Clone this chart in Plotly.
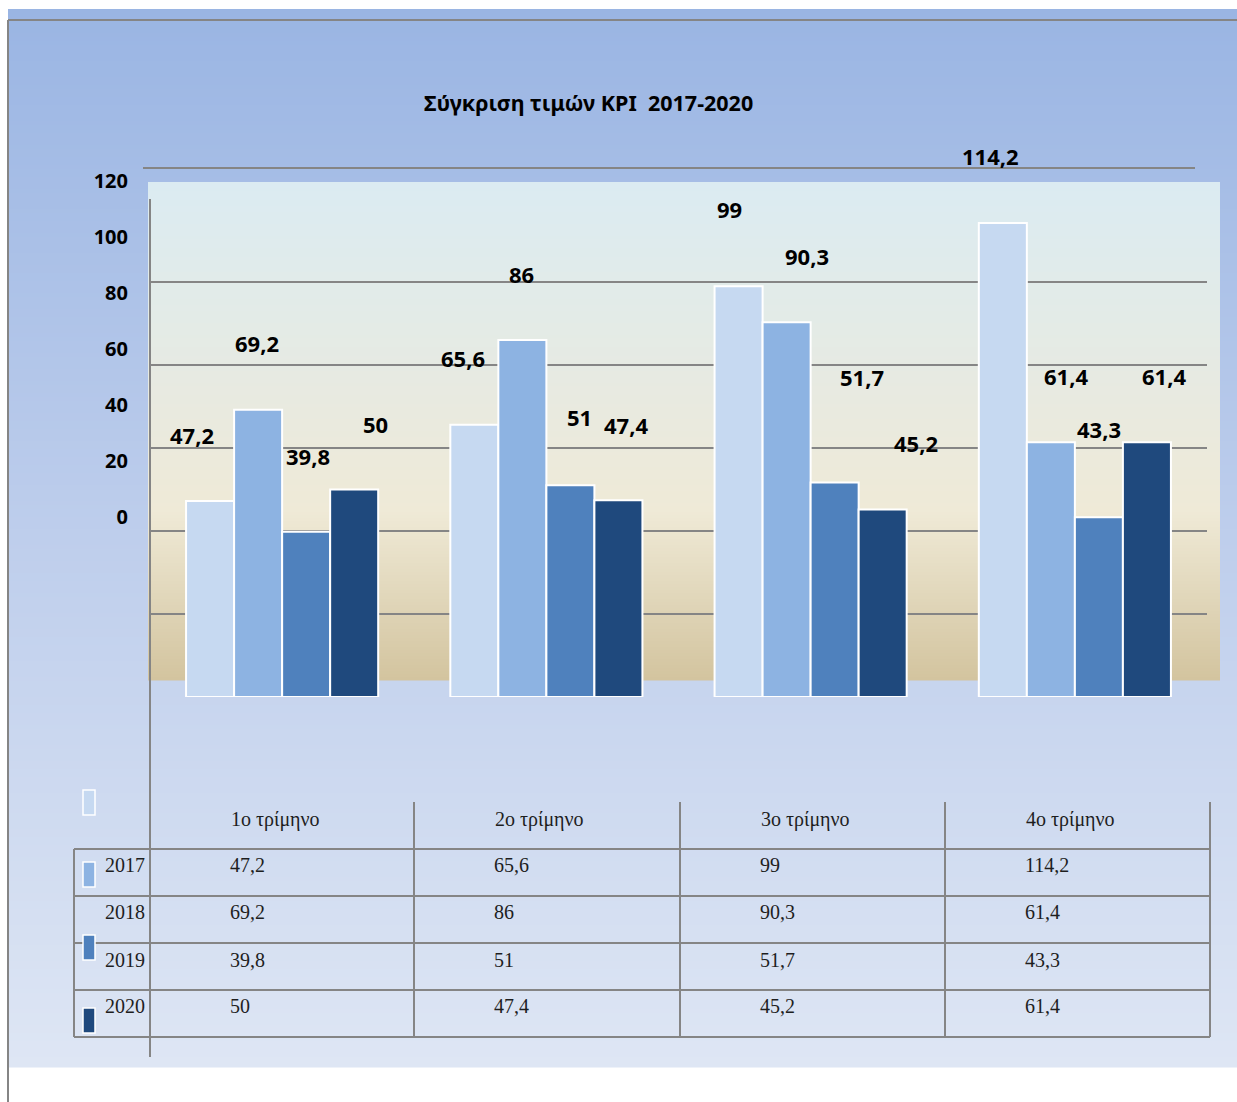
import plotly.graph_objects as go

# ---------------- data ----------------
title_text = "Σύγκριση τιμών KPI  2017-2020"
quarters = ["1ο τρίμηνο", "2ο τρίμηνο", "3ο τρίμηνο", "4ο τρίμηνο"]
years = ["2017", "2018", "2019", "2020"]
v2017 = [47.2, 65.6, 99, 114.2]
v2018 = [69.2, 86, 90.3, 61.4]
v2019 = [39.8, 51, 51.7, 43.3]
v2020 = [50, 47.4, 45.2, 61.4]
series = [v2017, v2018, v2019, v2020]
y_ticks = [0, 20, 40, 60, 80, 100, 120]

# ---------------- styles ----------------
colors = ["#c6d9f1", "#8db3e2", "#4f81bd", "#1f497d"]
W, H = 1237, 1102
GRID = "#858585"
# per-label offsets in px (xshift, yshift above bar top), by series then quarter
label_dx = [[-18, -11, -9, -12], [-1, -1, 20, 15], [2, 9, 27, 0], [21, 8, 33, 17]]
label_dy = [[66, 67, 77, 67], [67, 66, 66, 66], [76, 68, 105, 88], [66, 75, 66, 66]]


def px(x):
    return x / W


def py(y):
    return 1 - y / H


def fmt(v):
    return f"{v:g}".replace(".", ",")


def lerp_color(stops, t):
    for (t0, c0), (t1, c1) in zip(stops[:-1], stops[1:]):
        if t <= t1:
            f = 0 if t1 == t0 else (t - t0) / (t1 - t0)
            c = [round(a + (b - a) * f) for a, b in zip(c0, c1)]
            return f"rgb({c[0]},{c[1]},{c[2]})"
    c = stops[-1][1]
    return f"rgb({c[0]},{c[1]},{c[2]})"


shapes = []


def gradient(x0, x1, y0, y1, stops, step=3):
    y = y0
    while y < y1:
        yb = min(y + step, y1)
        t = ((y + yb) / 2 - y0) / (y1 - y0)
        shapes.append(dict(type="rect", xref="paper", yref="paper", layer="below",
                           x0=px(x0), x1=px(x1), y0=py(yb + 0.5), y1=py(y),
                           fillcolor=lerp_color(stops, t), line=dict(width=0)))
        y = yb


# outer background
gradient(8, W, 9, 1067, [(0, (154, 181, 227)), (0.5, (190, 206, 236)), (1, (222, 230, 244))], step=4)
# inner plot panel
gradient(148, 1220, 182, 680, [(0, (219, 235, 242)), (0.66, (239, 234, 215)), (1, (211, 196, 158))], step=3)


def line(x0, y0, x1, y1, w=2, color=GRID):
    shapes.append(dict(type="line", xref="paper", yref="paper", layer="above",
                       x0=px(x0), y0=py(y0), x1=px(x1), y1=py(y1),
                       line=dict(color=color, width=w)))


# frame lines
line(8, 20, W, 20)
line(8, 20, 8, H)
line(143, 168, 1195, 168)
line(150, 199, 150, 1057)

# table grid
table_cols = [150, 414, 680, 945, 1210]
row_lines = [849, 896, 943, 990, 1037]
for yy in row_lines:
    line(74, yy, 1210, yy)
line(74, 849, 74, 1037)
for xx in table_cols[1:]:
    line(xx, 802, xx, 1037)

# legend keys in the table (as they appear in the source)
key_pos = [(790, 0), (862, 1), (935, 2), (1008, 3)]
for ytop, ci in key_pos:
    shapes.append(dict(type="rect", xref="paper", yref="paper", layer="above",
                       x0=px(83), x1=px(95), y0=py(ytop + 25), y1=py(ytop),
                       fillcolor=colors[ci], line=dict(color="white", width=1.5)))

fig = go.Figure()
for i, (yr, vals) in enumerate(zip(years, series)):
    fig.add_trace(go.Bar(
        x=quarters, y=vals, name=yr,
        marker=dict(color=colors[i], line=dict(color="white", width=2)),
        hoverinfo="skip", showlegend=False,
    ))

# dummy trace for the (misaligned) tick-label axis
fig.add_trace(go.Scatter(x=[0], y=[0], xaxis="x2", yaxis="y2", mode="markers",
                         marker=dict(opacity=0), hoverinfo="skip", showlegend=False))

annotations = []
ngroups = len(series)
bargap = 0.273
bw = (1 - bargap) / ngroups
for i, vals in enumerate(series):
    for j, v in enumerate(vals):
        annotations.append(dict(
            x=j + (i - (ngroups - 1) / 2) * bw, y=v, xref="x", yref="y",
            text=f"<b>{fmt(v)}</b>", showarrow=False,
            xanchor="center", yanchor="middle",
            xshift=label_dx[i][j], yshift=label_dy[i][j],
            font=dict(family="Noto Sans", size=22, color="#000000"),
        ))

# title
annotations.append(dict(x=px(588), y=py(103), xref="paper", yref="paper",
                        text=f"<b>{title_text}</b>", showarrow=False,
                        xanchor="center", yanchor="middle",
                        font=dict(family="Noto Sans", size=21.5, color="#000000")))

# table texts
serif = dict(family="Liberation Serif", size=20, color="#1e1e1e")
header_y = 819
row_y = [865, 912, 960, 1006]
for j, q in enumerate(quarters):
    annotations.append(dict(x=px(table_cols[j] + 79), y=py(header_y), xref="paper", yref="paper",
                            text=q, showarrow=False, xanchor="left", yanchor="middle", font=serif))
for i, (yr, vals) in enumerate(zip(years, series)):
    annotations.append(dict(x=px(147), y=py(row_y[i]), xref="paper", yref="paper",
                            text=yr, showarrow=False, xanchor="right", yanchor="middle", font=serif))
    for j, v in enumerate(vals):
        annotations.append(dict(x=px(table_cols[j] + 78), y=py(row_y[i]), xref="paper", yref="paper",
                                text=fmt(v), showarrow=False, xanchor="left", yanchor="middle", font=serif))

fig.update_layout(
    width=W, height=H, margin=dict(l=0, r=0, t=0, b=0, pad=0, autoexpand=False),
    paper_bgcolor="white", plot_bgcolor="rgba(0,0,0,0)",
    barmode="group", bargap=bargap, bargroupgap=0,
    xaxis=dict(domain=[px(150), px(1207)], range=[-0.5, 3.5], showticklabels=False,
               showgrid=False, zeroline=False, showline=False, ticks="", automargin=False),
    yaxis=dict(domain=[py(697), py(199)], range=[0, 120], tickvals=y_ticks[:-1],
               showticklabels=False, showgrid=True, gridcolor=GRID, gridwidth=2,
               zeroline=False, showline=False, ticks="", automargin=False),
    xaxis2=dict(domain=[0, 0.02], anchor="y2", visible=False, range=[1, 2], automargin=False),
    yaxis2=dict(domain=[py(517), py(181)], range=[0, 120], anchor="free",
                position=px(128), tickvals=y_ticks, showgrid=False, zeroline=False,
                showline=False, ticks="", automargin=False,
                tickfont=dict(family="Noto Sans", size=20, color="#000000", weight="bold")),
    shapes=shapes, annotations=annotations,
    showlegend=False,
)

fig.write_html("out.html")
